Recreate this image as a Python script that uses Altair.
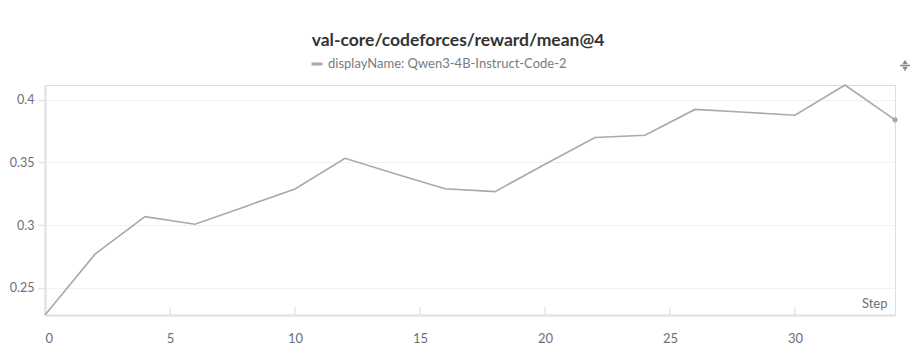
import altair as alt
import pandas as pd

steps = [0, 2, 4, 6, 8, 10, 12, 14, 16, 18, 20, 22, 24, 26, 28, 30, 32, 34]
values = [0.2282, 0.2768, 0.3067, 0.3006, 0.3147, 0.3288, 0.3533, 0.3410, 0.3290,
          0.3267, 0.3485, 0.3699, 0.3717, 0.3923, 0.3900, 0.3877, 0.4118, 0.3840]
series_name = "displayName: Qwen3-4B-Instruct-Code-2"
x_ticks = [0, 5, 10, 15, 20, 25, 30]
y_ticks = [0.25, 0.3, 0.35, 0.4]

FONT = "Lato"
LINE = "#a7a9ac"
LABEL = "#6e6e7a"

df = pd.DataFrame({"step": steps, "value": values, "series": series_name})
ticks_df = pd.DataFrame({"t": x_ticks})

xs = alt.Scale(domain=[0, 34], nice=False, zero=False)
ys = alt.Scale(domain=[min(values), max(values)], nice=False, zero=False)

line = alt.Chart(df).mark_line(strokeWidth=1.6, clip=False).encode(
    x=alt.X("step:Q", scale=xs,
            axis=alt.Axis(values=x_ticks, title="Step", grid=False, ticks=False,
                          domainColor="#e4e4e8", domainWidth=2.5,
                          labelColor=LABEL, labelFont=FONT, labelFontSize=13,
                          labelPadding=17, titleFont=FONT, titleFontSize=13,
                          titleFontWeight="normal", titleColor=LABEL,
                          titleAnchor="end", titleAlign="right", titleBaseline="bottom",
                          titleX=842, titleY=-5)),
    y=alt.Y("value:Q", scale=ys,
            axis=alt.Axis(values=y_ticks, format="~g", title=None, grid=True,
                          gridColor="#f0f0f2", gridWidth=1,
                          domainColor="#e4e4e8", domainWidth=2.5,
                          tickColor="#e4e4e8", tickSize=7, tickWidth=1.5,
                          labelColor=LABEL, labelFont=FONT, labelFontSize=12.5,
                          labelPadding=4)),
    color=alt.Color("series:N", scale=alt.Scale(range=[LINE]),
                    legend=alt.Legend(title=None, orient="none", legendX=265, legendY=-28,
                                      symbolType="stroke", symbolStrokeWidth=3,
                                      symbolSize=120, labelFont=FONT, labelFontSize=13,
                                      labelColor="#7a7a84", labelLimit=400)),
)

dot = alt.Chart(df.tail(1)).mark_point(filled=True, size=28, color=LINE, opacity=1).encode(
    x=alt.X("step:Q", scale=xs), y=alt.Y("value:Q", scale=ys))

tick_marks = alt.Chart(ticks_df).mark_rule(color="#e4e4e8", strokeWidth=1.5).encode(
    x=alt.X("t:Q", scale=xs), y=alt.value(222), y2=alt.value(230))

icon_df = pd.DataFrame({"shape": ["triangle-up", "triangle-down"], "k": [0, 1]})
icon_up = alt.Chart(icon_df.head(1)).mark_point(filled=True, shape="triangle-up", size=30,
                                                  color="#8a8a8f", opacity=1).encode(
    x=alt.value(860), y=alt.value(-23))
icon_down = alt.Chart(icon_df.tail(1)).mark_point(filled=True, shape="triangle-down", size=30,
                                                    color="#8a8a8f", opacity=1).encode(
    x=alt.value(860), y=alt.value(-16))
icon_bar = alt.Chart(icon_df.head(1)).mark_rule(color="#8a8a8f", strokeWidth=1.5).encode(
    x=alt.value(855), x2=alt.value(865), y=alt.value(-19.5))

chart = alt.layer(tick_marks, line, dot, icon_up, icon_down, icon_bar).properties(
    width=850, height=230,
    title=alt.TitleParams("val-core/codeforces/reward/mean@4", font=FONT, fontSize=17.5,
                          fontWeight="bold", color="#333333", anchor="middle",
                          dx=-12, offset=8),
    autosize=alt.AutoSizeParams(type="none"),
    padding={"left": 37, "top": 77, "right": 17, "bottom": 30},
).configure_view(stroke=None).configure(background="white")

chart.save("out.html", embed_options={"renderer": "svg", "actions": False})
